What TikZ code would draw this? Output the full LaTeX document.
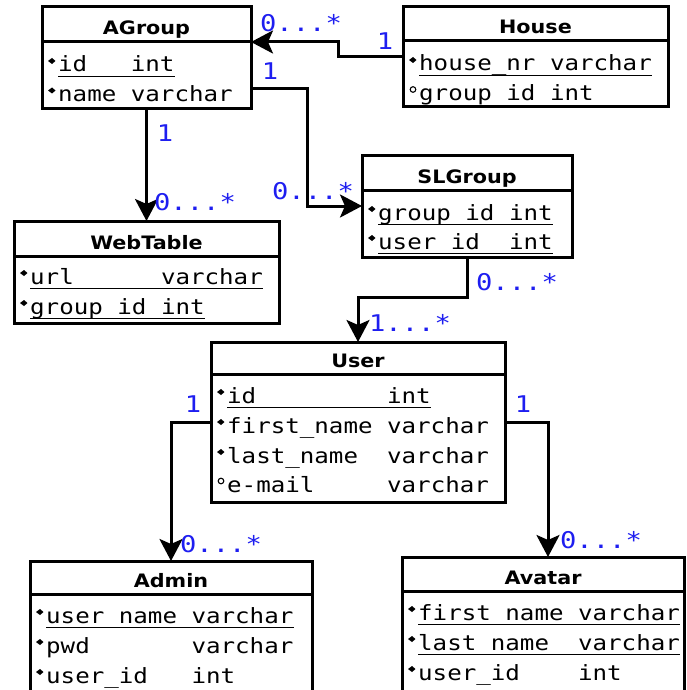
\documentclass[tikz,border=0pt]{standalone}
\usepackage{fontspec}
\usetikzlibrary{arrows.meta,calc,fit}
\newfontfamily\attrfont[FakeStretch=1.15]{DejaVu Sans Mono}
\newfontfamily\lblfont[FakeStretch=1.18]{DejaVu Sans Mono}
\newfontfamily\titlefont[FakeStretch=1.12]{DejaVu Sans}
\definecolor{lblue}{RGB}{30,30,240}
\tikzset{
  tbl/.style={draw, line width=3pt, inner sep=0pt, outer sep=0pt},
  sepline/.style={line width=3pt},
  ttl/.style={font=\titlefont\bfseries\fontsize{18.5}{20}\selectfont, anchor=base, inner sep=0pt},
  attr/.style={font=\attrfont\fontsize{21}{24}\selectfont, anchor=base west, inner sep=0pt},
  uline/.style={line width=1.5pt},
  lbl/.style={font=\lblfont\fontsize{23}{26}\selectfont, text=lblue, anchor=base, inner sep=0pt},
  conn/.style={line width=3pt, -{Stealth[length=22pt,width=23pt,inset=5pt]}},
}
\newcommand\tabl[7]{% name, left, top, right, bottom, header bottom, title
  \node[tbl, fit={(#2,#3) (#4,#5)}] (#1) {};
  \draw[sepline] (#1.west |- 0,#6) -- (#1.east |- 0,#6);
  \node[ttl] (#1-t) at (#1.north |- 0,#6-7) {#7};}
\newcommand\krow[4]{% name, left, baseline, text
  \node[attr] (#1) at (#2+16,#3) {#4};
  \fill (#2+6,#3-11) -- (#2+10,#3-14) -- (#2+13.5,#3-11) -- (#2+10,#3-8) -- cycle;}
\newcommand\nrow[4]{%
  \node[attr] (#1) at (#2+16,#3) {#4};
  \draw[line width=1.1pt] (#2+10,#3-11) circle[radius=2.8];}
\newcommand\ul[1]{\draw[uline] ($(#1.base west)+(0,4.5)$) -- ($(#1.base east)+(0,4.5)$);}
\begin{document}
\begin{tikzpicture}[x=1pt,y=-1pt]
\clip (0,0) rectangle (686,690);
% tables
\tabl{agroup}{42}{7}{251}{109}{42}{AGroup}
\krow{ag1}{42}{72}{id~~~int}\ul{ag1}
\krow{ag2}{42}{101.5}{name~varchar}

\tabl{house}{403}{7}{668}{107}{41}{House}
\krow{ho1}{403}{71}{house\_nr~varchar}\ul{ho1}
\nrow{ho2}{403}{100.5}{group~id~int}

\tabl{webtable}{14}{221}{279}{323}{256}{WebTable}
\krow{wt1}{14}{284}{url~~~~~~varchar}\ul{wt1}
\krow{wt2}{14}{314}{group~id~int}\ul{wt2}

\tabl{slgroup}{362}{155}{572}{257}{190}{SLGroup}
\krow{sl1}{362}{220}{group\_id~int}\ul{sl1}
\krow{sl2}{362}{249}{user\_id~~int}\ul{sl2}

\tabl{user}{211}{342}{505}{502}{374}{User}
\krow{us1}{211}{403}{id~~~~~~~~~int}\ul{us1}
\krow{us2}{211}{433}{first\_name~varchar}
\krow{us3}{211}{463}{last\_name~~varchar}
\nrow{us4}{211}{492}{e-mail~~~~~varchar}

\tabl{admin}{30}{561}{312}{720}{594}{Admin}
\krow{ad1}{30}{623}{user\_name~varchar}\ul{ad1}
\krow{ad2}{30}{653}{pwd~~~~~~~varchar}
\krow{ad3}{30}{683}{user\_id~~~int}

\tabl{avatar}{402}{557}{684}{720}{591}{Avatar}
\krow{av1}{402}{620}{first~name~varchar}\ul{av1}
\krow{av2}{402}{650}{last~name~~varchar}\ul{av2}
\krow{av3}{402}{680}{user\_id~~~~int}

% connectors
\draw[conn] (house.west) -- ++(-65,0) |- (agroup.east |- 0,42);
\draw[conn] ($(agroup.south east)+(0,-20)$) -- ++(56,0) |- (slgroup.west);
\draw[conn] (agroup.south) -- (webtable.north);
\draw[conn] (slgroup.south) -- ++(0,40) -| (user.north);
\draw[conn] (user.west) -| (admin.north);
\draw[conn] (user.east) -| ($(avatar.north)+(5,0)$);

% multiplicities
\node[lbl] (m1) at (301,32) {0...*};
\node[lbl] (m2) at (385,50) {1};
\node[lbl] (m3) at (270,80) {1};
\node[lbl] (m4) at (165,142) {1};
\node[lbl] (m5) at (195,210) {0...*};
\node[lbl] (m6) at (313,199) {0...*};
\node[lbl] (m7) at (517,290) {0...*};
\node[lbl] (m8) at (410,331) {1...*};
\node[lbl] (m9) at (193,412) {1};
\node[lbl] (m10) at (523,412) {1};
\node[lbl] (m11) at (221,552) {0...*};
\node[lbl] (m12) at (601,548) {0...*};
\end{tikzpicture}
\end{document}
